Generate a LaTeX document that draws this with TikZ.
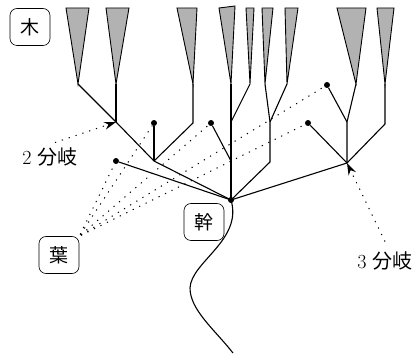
\documentclass[tikz,border=0pt]{standalone}
\usepackage{fontspec}
\newfontfamily\jpfont{Noto Sans CJK JP}
\usetikzlibrary{arrows.meta,positioning,calc}
\definecolor{crowngray}{RGB}{178,178,178}

\begin{document}
\begin{tikzpicture}[
    x=1pt,y=-1pt,
    branch/.style={line width=1.1pt,line join=round},
    crown/.style={draw,line width=0.9pt,fill=crowngray,line join=miter},
    tag/.style={draw,rounded corners=7pt,line width=0.6pt,minimum width=40pt,minimum height=37pt,inner sep=1pt,font=\jpfont\fontsize{19}{19}\selectfont},
    note/.style={inner sep=2pt,font=\fontsize{20}{20}\selectfont},
    hint/.style={line width=1pt,dash pattern=on 1.2pt off 6pt},
    leaf/.style={circle,fill,inner sep=0pt,minimum size=6pt},
    >=Stealth
]
\useasboundingbox (0,0) rectangle (420,355);

% crowns
\coordinate (t1) at (78,84);  \coordinate (t2) at (116,84);
\coordinate (t3) at (193,84); \coordinate (t4) at (231,84);
\coordinate (t5) at (250,84); \coordinate (t6) at (265,84);
\coordinate (t7) at (287,84); \coordinate (t8) at (356,84);
\coordinate (t9) at (385,84);
\draw[crown] (66,8) -- (89,8) -- (t1) -- cycle;
\draw[crown] (106,8) -- (129,8) -- (t2) -- cycle;
\draw[crown] (177,8) -- (197,8) -- (t3) -- cycle;
\draw[crown] (219,8) -- (235,6) -- (t4) -- cycle;
\draw[crown] (246,8) -- (254,8) -- (t5) -- cycle;
\draw[crown] (262,8) -- (273,8) -- (t6) -- cycle;
\draw[crown] (285,8) -- (298,8) -- (t7) -- cycle;
\draw[crown] (337,8) -- (366,8) -- (t8) -- cycle;
\draw[crown] (377,8) -- (394,8) -- (t9) -- cycle;

% forks
\coordinate (a) at (116,122);
\coordinate (b) at (154,161);
\coordinate (c3) at (193,123);
\coordinate (root) at (231,200);
\coordinate (c) at (231,122);
\coordinate (d) at (231,161);
\coordinate (e) at (270,122);
\coordinate (f) at (270,162);
\coordinate (h) at (347,122);
\coordinate (g) at (347,163);
\coordinate (c9) at (385,124);

% leaves
\node[leaf] (l1) at (154,123) {};
\node[leaf] (l2) at (116,161) {};
\node[leaf] (l3) at (211,123) {};
\node[leaf] (l4) at (327,85) {};
\node[leaf] (l5) at (308,123) {};
\node[leaf] (rootdot) at (root) {};

\draw[branch] (t1) -- (a) -- (b) -- (root);
\draw[branch] (t2) -- (a);
\draw[branch] (l1) -- (b);
\draw[branch] (t3) -- (c3) -- (b);
\draw[branch] (l2) -- (root);
\draw[branch] (t4) -- (c) -- (d) -- (root);
\draw[branch] (t5) -- (c);
\draw[branch] (l3) -- (d);
\draw[branch] (t6) -- (e) -- (f) -- (root);
\draw[branch] (t7) -- (e);
\draw[branch] (t8) -- (h) -- (g) -- (root);
\draw[branch] (l4) -- (h);
\draw[branch] (l5) -- (g);
\draw[branch] (t9) -- (c9) -- (g);

% trunk
\draw[branch] (root) .. controls (243,240) and (191,262) .. (190,288)
    .. controls (190,310) and (215,330) .. (233,353);

% labels
\node[tag] (ki) at (30,27) {木};
\node[tag] (ha) at (59,255) {葉};
\node[tag] (miki) at (204,222) {幹};
\node[note] (two) at (50,157) {2 {\jpfont 分岐}};
\node[note] (three) at (385,261) {3 {\jpfont 分岐}};

\draw[hint,-{Stealth[length=12pt,width=8pt,inset=4pt]}] ($(two.north)+(5,-3)$) -- (a);
\draw[hint,-{Stealth[length=12pt,width=8pt,inset=4pt]}] ($(three.north)+(0,-8)$) -- (g);
\foreach \l in {l1,l2,l3,l4,l5}
    \draw[hint,shorten <=2pt] (ha.north east) -- (\l);
\end{tikzpicture}
\end{document}
